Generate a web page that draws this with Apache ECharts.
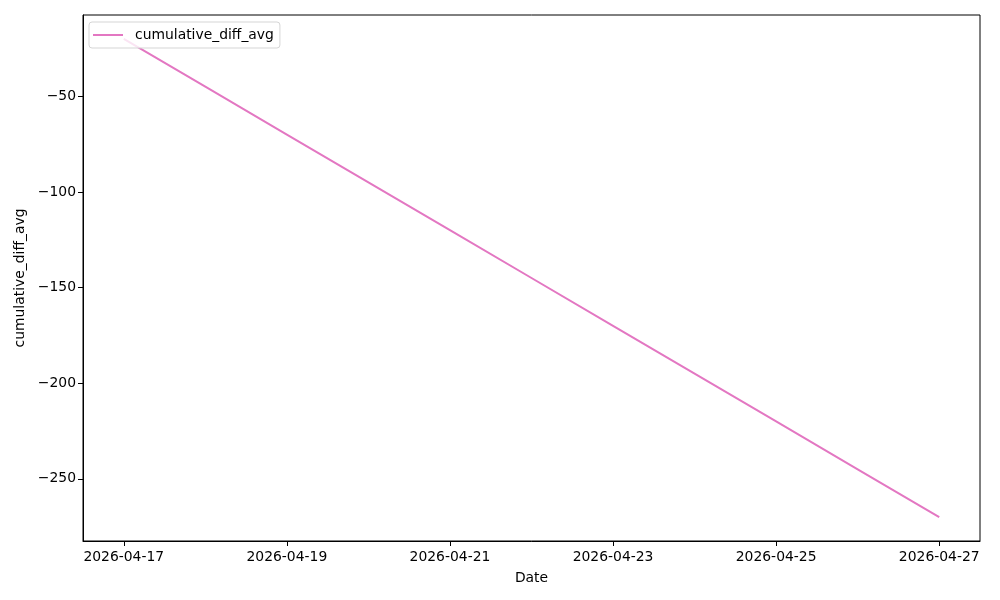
<!DOCTYPE html>
<html>
<head>
<meta charset="utf-8">
<script src="https://cdn.jsdelivr.net/npm/echarts@6/dist/echarts.min.js"></script>
<style>html,body{margin:0;padding:0;background:#fff;}#c{width:1000px;height:600px;}</style>
</head>
<body>
<div id="c"></div>
<script>
const dates = ['2026-04-17','2026-04-18','2026-04-19','2026-04-20','2026-04-21','2026-04-22','2026-04-23','2026-04-24','2026-04-25','2026-04-26','2026-04-27'];
const values = [-20, -45, -70, -95, -120, -145, -170, -195, -220, -245, -270];
const xTickDates = ['2026-04-17','2026-04-19','2026-04-21','2026-04-23','2026-04-25','2026-04-27'];
const yTicks = [-250, -200, -150, -100, -50];

const day0 = Date.UTC(2026, 3, 17);
function dayOf(s){ const p = s.split('-').map(Number); return (Date.UTC(p[0], p[1]-1, p[2]) - day0) / 86400000; }
function dateOf(d){ const t = new Date(day0 + Math.round(d) * 86400000); return t.toISOString().slice(0,10); }

const xs = dates.map(dayOf);
const xMin = Math.min(...xs), xMax = Math.max(...xs);
const xPad = (xMax - xMin) * 0.05;
const yMin = Math.min(...values), yMax = Math.max(...values);
const yPad = (yMax - yMin) * 0.05;

const font = 'DejaVu Sans';
const fs = 13.9;
const chart = echarts.init(document.getElementById('c'));
chart.setOption({
  animation: false,
  backgroundColor: '#fff',
  grid: { left: 83, right: 20, top: 15, bottom: 59, show: true, borderColor: '#000', borderWidth: 1, backgroundColor: 'transparent' },
  legend: {
    left: 89, top: 22, orient: 'vertical',
    data: [{ name: 'cumulative_diff_avg', icon: 'rect' }],
    itemWidth: 30, itemHeight: 2, itemGap: 4,
    padding: [6, 6, 6, 4],
    borderColor: '#d5d5d5', borderWidth: 1, borderRadius: 3,
    backgroundColor: 'rgba(255,255,255,0.8)',
    textStyle: { fontFamily: font, fontSize: fs, color: '#000', padding: [0, 0, 0, 7] }
  },
  xAxis: {
    type: 'value', min: xMin - xPad, max: xMax + xPad,
    name: 'Date', nameLocation: 'middle', nameGap: 30,
    nameTextStyle: { fontFamily: font, fontSize: fs, color: '#000' },
    axisLine: { show: true, onZero: false, lineStyle: { color: '#000', width: 1 } },
    splitLine: { show: false },
    axisTick: { show: true, length: 5, lineStyle: { color: '#000' }, customValues: xTickDates.map(dayOf) },
    axisLabel: { fontFamily: font, fontSize: fs, color: '#000', margin: 9, customValues: xTickDates.map(dayOf), formatter: v => dateOf(v) }
  },
  yAxis: {
    type: 'value', min: yMin - yPad, max: yMax + yPad,
    name: 'cumulative_diff_avg', nameLocation: 'middle', nameGap: 55, nameRotate: 90,
    nameTextStyle: { fontFamily: font, fontSize: fs, color: '#000' },
    axisLine: { show: true, onZero: false, lineStyle: { color: '#000', width: 1 } },
    splitLine: { show: false },
    axisTick: { show: true, length: 5, lineStyle: { color: '#000' }, customValues: yTicks },
    axisLabel: { fontFamily: font, fontSize: fs, color: '#000', margin: 7, customValues: yTicks, formatter: v => String(v).replace('-', '\u2212') }
  },
  series: [{
    name: 'cumulative_diff_avg', type: 'line',
    data: xs.map((x, i) => [x, values[i]]),
    showSymbol: false, symbol: 'none',
    itemStyle: { color: '#e377c2' },
    lineStyle: { color: '#e377c2', width: 2 }
  }]
});
</script>
</body>
</html>
